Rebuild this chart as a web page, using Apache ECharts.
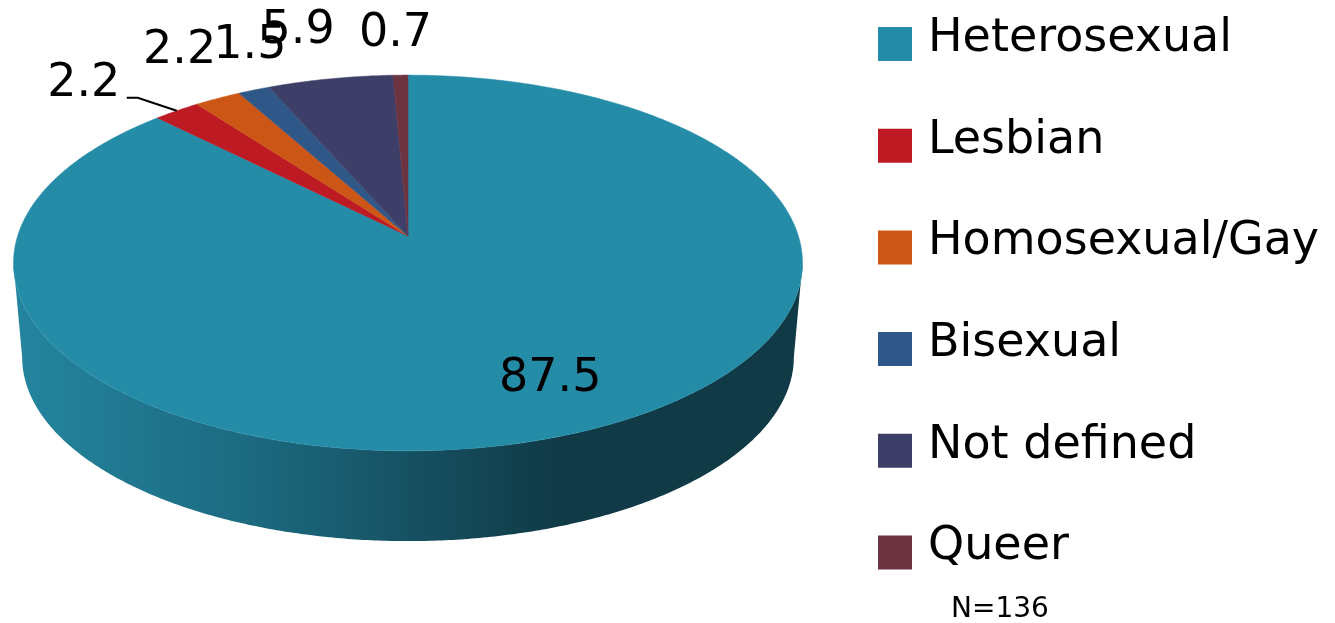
<!DOCTYPE html>
<html>
<head>
<meta charset="utf-8">
<title>Sexual orientation</title>
<style>
  html, body { margin: 0; padding: 0; background: #fff; }
  #chart { width: 1335px; height: 623px; }
</style>
<script src="https://cdn.jsdelivr.net/npm/echarts@6/dist/echarts.min.js"></script>
</head>
<body>
<div id="chart"></div>
<script>
(function () {
  "use strict";

  var sliceNames = ["Heterosexual", "Lesbian", "Homosexual/Gay", "Bisexual", "Not defined", "Queer"];
  var sliceValues = [87.5, 2.2, 2.2, 1.5, 5.9, 0.7];
  var sliceColors = ["#258ca8", "#bd1a24", "#cc5616", "#2f5788", "#3e3f68", "#6c3340"];
  var sampleSize = "N=136";

  // label position relative to the middle of the slice's rim
  var labelOffsets = [[-30, -54], [-93, -28], [-38, -48], [-4, -45], [-32, -49], [-5, -42]];
  // leader line for Lesbian: elbow and tail, relative to the rim
  var leaders = { 1: [[-39, -13], [-50, -13]] };

  // tilted disc: circle seen through a perspective, apex sits above the ellipse centre
  var cx = 408;
  var cy = 236;
  var scaleX = 390.4;
  var scaleY = 184;
  var persp = 0.1436;
  var depth = 93;
  var bottomShrink = 0.978;
  var fontFamily = '"DejaVu Sans", sans-serif';

  var total = sliceValues.reduce(function (a, b) { return a + b; }, 0);

  function rim(deg) {
    var a = (deg * Math.PI) / 180;
    var w = 1 + persp * Math.cos(a);
    return [cx + (scaleX * Math.sin(a)) / w, cy - (scaleY * Math.cos(a)) / w];
  }

  function lowerRim(deg) {
    var p = rim(deg);
    return [cx + (p[0] - cx) * bottomShrink, cy + (p[1] - cy) * bottomShrink + depth + 2];
  }

  function arc(fn, from, to) {
    var pts = [];
    var n = Math.max(2, Math.ceil((to - from) * 2));
    for (var i = 0; i <= n; i++) {
      pts.push(fn(from + ((to - from) * i) / n));
    }
    return pts;
  }

  var starts = [];
  sliceValues.reduce(function (sum, v, i) {
    starts[i] = (sum / total) * 360;
    return sum + v;
  }, 0);

  // only the near half of the rim has a visible wall
  var wallFrom = 90 + (Math.asin(persp) * 180) / Math.PI;
  var wallTo = 360 - wallFrom;

  function renderWall(idx) {
    return function () {
      var from = Math.max(starts[idx], wallFrom);
      var to = Math.min(starts[idx] + (sliceValues[idx] / total) * 360, wallTo);
      if (to <= from) {
        return null;
      }
      var pts = arc(rim, from, to).concat(arc(lowerRim, from, to).reverse());
      return {
        type: "polygon",
        shape: { points: pts },
        style: {
          fill: new echarts.graphic.LinearGradient(0, 0, 1, 0, [
            { offset: 0, color: "#24859f" },
            { offset: 0.3, color: "#1c6a80" },
            { offset: 0.69, color: "#103a46" },
            { offset: 1, color: "#103a46" }
          ])
        },
        silent: true
      };
    };
  }

  function renderSlice(idx) {
    return function () {
      var from = starts[idx];
      var to = from + (sliceValues[idx] / total) * 360;
      var pts = [[cx, cy]].concat(arc(rim, from, to));
      var mid = rim((from + to) / 2);
      var off = labelOffsets[idx];
      var children = [
        {
          type: "polygon",
          shape: { points: pts },
          style: { fill: sliceColors[idx], stroke: sliceColors[idx], lineWidth: 0.5 }
        }
      ];
      if (leaders[idx]) {
        children.push({
          type: "polyline",
          shape: {
            points: [mid].concat(
              leaders[idx].map(function (d) {
                return [mid[0] + d[0], mid[1] + d[1]];
              })
            )
          },
          style: { stroke: "#000", lineWidth: 2, fill: null }
        });
      }
      children.push({
        type: "text",
        z2: 10,
        style: {
          text: String(sliceValues[idx]),
          x: mid[0] + off[0],
          y: mid[1] + off[1] + 1,
          align: "center",
          verticalAlign: "middle",
          fontFamily: fontFamily,
          fontSize: 46,
          fill: "#000"
        }
      });
      return { type: "group", children: children };
    };
  }

  var walls = sliceNames.map(function (name, i) {
    return {
      type: "custom",
      name: name + " wall",
      coordinateSystem: "none",
      silent: true,
      z: 1,
      data: [[sliceValues[i]]],
      renderItem: renderWall(i)
    };
  });

  var tops = sliceNames.map(function (name, i) {
    return {
      type: "custom",
      name: name,
      coordinateSystem: "none",
      silent: true,
      z: 2,
      itemStyle: { color: sliceColors[i] },
      data: [[sliceValues[i]]],
      renderItem: renderSlice(i)
    };
  });

  var chart = echarts.init(document.getElementById("chart"), null, { renderer: "canvas" });

  chart.setOption({
    animation: false,
    backgroundColor: "#fff",
    title: {
      text: sampleSize,
      left: 951,
      top: 596,
      padding: 0,
      textStyle: { fontFamily: fontFamily, fontSize: 28, fontWeight: "normal", color: "#000" }
    },
    legend: {
      data: sliceNames,
      orient: "vertical",
      left: 878,
      top: 16,
      padding: 0,
      itemWidth: 34,
      itemHeight: 34,
      itemGap: 45.7,
      icon: "rect",
      selectedMode: false,
      itemStyle: { borderWidth: 0 },
      // blank second line lifts the name above the swatch centre
      formatter: function (name) {
        return name + "\n ";
      },
      textStyle: {
        fontFamily: fontFamily,
        fontSize: 46,
        color: "#000",
        lineHeight: 10,
        padding: [0, 0, 0, 11]
      }
    },
    series: walls.concat(tops)
  });

  window.addEventListener("resize", function () {
    chart.resize();
  });
})();
</script>
</body>
</html>
